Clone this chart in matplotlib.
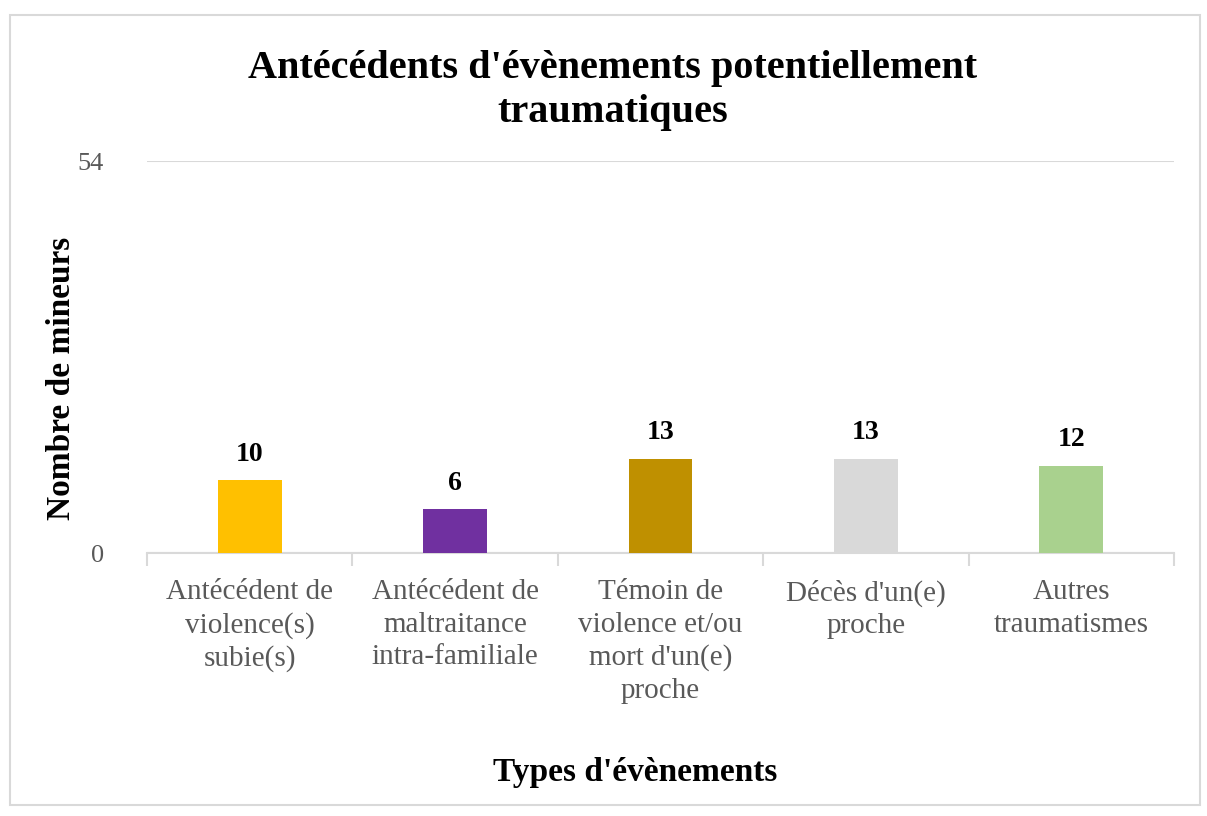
import matplotlib
matplotlib.use("Agg")
import matplotlib.pyplot as plt
from matplotlib.patches import Rectangle

categories = ["Antécédent de\nviolence(s)\nsubie(s)",
              "Antécédent de\nmaltraitance\nintra-familiale",
              "Témoin de\nviolence et/ou\nmort d'un(e)\nproche",
              "Décès d'un(e)\nproche",
              "Autres\ntraumatismes"]
values = [10, 6, 13, 13, 12]
colors = ["#FFC000", "#7030A0", "#BF9000", "#D9D9D9", "#A9D18E"]
y_ticks = [0, 54]

plt.rcParams['font.family'] = ['Liberation Serif', 'DejaVu Serif']

fig = plt.figure(figsize=(12.07, 8.16), dpi=100)
ax = fig.add_axes([147/1207, 1-553/816, (1174-147)/1207, (553-161)/816])

x = list(range(len(values)))
ax.bar(x, values, width=0.31, color=colors, zorder=3)
for xi, v in zip(x, values):
    ax.annotate(str(v), (xi, v), xytext=(0, 10), textcoords="offset points",
                ha="center", va="bottom", fontsize=20, fontweight="bold", color="black")

ax.set_xlim(-0.5, len(values) - 0.5)
ax.set_ylim(0, 54)
ax.set_yticks(y_ticks)
ax.set_yticklabels([str(t) for t in y_ticks], fontsize=19, color="#595959")
ax.tick_params(axis="y", length=0, pad=31)
ax.grid(axis="y", color="#D9D9D9", linewidth=1.5, zorder=0)

ax.set_xticks(x)
ax.set_xticklabels(categories, fontsize=21, color="#595959", linespacing=1.32, va="top")
ax.tick_params(axis="x", length=0, pad=19)
ax.set_xticks([i + 0.5 for i in range(-1, len(values))], minor=True)
ax.tick_params(axis="x", which="minor", length=9, width=1.5, color="#D9D9D9")

for s in ["top", "right", "left"]:
    ax.spines[s].set_visible(False)
ax.spines["bottom"].set_color("#D9D9D9")
ax.spines["bottom"].set_linewidth(1.5)

fig.text(613/1207, 1-122/816, "Antécédents d'évènements potentiellement\ntraumatiques",
         ha="center", va="baseline", fontsize=29, fontweight="bold", linespacing=1.24)
fig.text(635/1207, 1-773/816, "Types d'évènements", ha="center", va="center",
         fontsize=24, fontweight="bold")
fig.text(62/1207, 1-378/816, "Nombre de mineurs", ha="center", va="center",
         rotation=90, fontsize=24, fontweight="bold")

fig.patches.append(Rectangle((10/1207, 1-805/816), 1190/1207, 790/816,
                             transform=fig.transFigure, fill=False,
                             edgecolor="#D9D9D9", linewidth=1.5))

fig.savefig("out.png", dpi=100)
